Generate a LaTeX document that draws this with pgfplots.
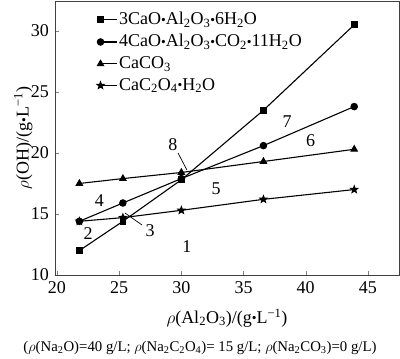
\documentclass[border=0pt]{standalone}
\usepackage{graphicx}
\usepackage{pgfplots}
\pgfplotsset{compat=1.18}
\usepackage{fontspec}
\setmainfont{Liberation Serif}
\newcommand\bul{\raisebox{0.05ex}{\scalebox{0.75}{\textbullet}}}
\pgfdeclareplotmark{fstar}{%
  \pgfpathmoveto{\pgfpointpolar{90}{\pgfplotmarksize}}%
  \pgfpathlineto{\pgfpointpolar{126}{0.42\pgfplotmarksize}}%
  \pgfpathlineto{\pgfpointpolar{162}{\pgfplotmarksize}}%
  \pgfpathlineto{\pgfpointpolar{198}{0.42\pgfplotmarksize}}%
  \pgfpathlineto{\pgfpointpolar{234}{\pgfplotmarksize}}%
  \pgfpathlineto{\pgfpointpolar{270}{0.42\pgfplotmarksize}}%
  \pgfpathlineto{\pgfpointpolar{306}{\pgfplotmarksize}}%
  \pgfpathlineto{\pgfpointpolar{342}{0.42\pgfplotmarksize}}%
  \pgfpathlineto{\pgfpointpolar{18}{\pgfplotmarksize}}%
  \pgfpathlineto{\pgfpointpolar{54}{0.42\pgfplotmarksize}}%
  \pgfpathclose\pgfusepathqfillstroke}
\begin{document}
\fontsize{18}{21}\selectfont
\begin{tikzpicture}
\useasboundingbox (-55pt,-84pt) rectangle (345pt,275pt);
\begin{axis}[
  scale only axis, width=344pt, height=274pt,
  xmin=19.84, xmax=47.5, ymin=10, ymax=32.45,
  xtick={20,25,30,35,40,45}, ytick={10,15,20,25,30},
  tick align=inside, xtick pos=bottom, ytick pos=left,
  major tick length=4pt,
  clip=false,
  axis line style={line width=0.8pt, black!75},
  /pgf/number format/assume math mode=true,
  tick label style={font=\fontsize{18}{21}\selectfont},
  xlabel={$\rho$(Al\textsubscript{2}O\textsubscript{3})/(g\bul L\textsuperscript{−1})},
  ylabel={$\rho$(OH)/(g\bul L\textsuperscript{−1})},
  xlabel style={at={(axis description cs:0.5,-0.157)}, anchor=center, font=\fontsize{18}{21}\selectfont},
  ylabel style={at={(axis description cs:-0.092,0.5)}, anchor=center, font=\fontsize{18}{21}\selectfont},
  legend cell align=left,
  legend style={at={(axis description cs:0,1)}, anchor=north west, xshift=42pt, yshift=-9pt,
    draw=none, fill=none, inner sep=0pt, row sep=3pt, font=\fontsize{18}{21}\selectfont},
  legend image code/.code={\draw[#1,mark=none] (0pt,0pt) -- (16pt,0pt); \draw[#1] plot[only marks] coordinates {(0pt,0pt)};},
  every axis plot/.append style={black, line width=1.1pt},
]
\addplot[mark=square*, mark size=2.8pt] coordinates {(21.8,12.0) (25.3,14.4) (30.0,17.8) (36.6,23.5) (43.9,30.5)};
\addlegendentry{3CaO\bul Al\textsubscript{2}O\textsubscript{3}\bul 6H\textsubscript{2}O}
\addplot[mark=*, mark size=3.2pt] coordinates {(21.8,14.4) (25.3,15.9) (30.0,17.9) (36.6,20.6) (43.9,23.8)};
\addlegendentry{4CaO\bul Al\textsubscript{2}O\textsubscript{3}\bul CO\textsubscript{2}\bul 11H\textsubscript{2}O}
\addplot[mark=triangle*, mark size=3.5pt] coordinates {(21.8,17.5) (25.3,17.9) (30.0,18.4) (36.6,19.3) (43.9,20.3)};
\addlegendentry{CaCO\textsubscript{3}}
\addplot[mark=fstar, mark size=3.5pt] coordinates {(21.8,14.4) (25.3,14.7) (30.0,15.3) (36.6,16.2) (43.9,17.0)};
\addlegendentry{CaC\textsubscript{2}O\textsubscript{4}\bul H\textsubscript{2}O}
\node at (axis cs:29.32,20.66) {8};
\draw[line width=0.7pt] (axis cs:29.73,20.0) -- (axis cs:30.45,18.6);
\node at (axis cs:27.48,13.6) {3};
\draw[line width=0.7pt] (axis cs:26.83,14.1) -- (axis cs:25.47,15.08);
\node at (axis cs:23.4,16.07) {4};
\node at (axis cs:22.5,13.4) {2};
\node at (axis cs:30.45,12.3) {1};
\node at (axis cs:32.8,17.05) {5};
\node at (axis cs:38.5,22.6) {7};
\node at (axis cs:40.4,21.0) {6};
\node[font=\fontsize{14.8}{17}\selectfont] at (axis description cs:0.4215,-0.266)
  {($\rho$(Na\textsubscript{2}O)=40 g/L; $\rho$(Na\textsubscript{2}C\textsubscript{2}O\textsubscript{4})= 15 g/L; $\rho$(Na\textsubscript{2}CO\textsubscript{3})=0 g/L)};
\end{axis}
\end{tikzpicture}
\end{document}
